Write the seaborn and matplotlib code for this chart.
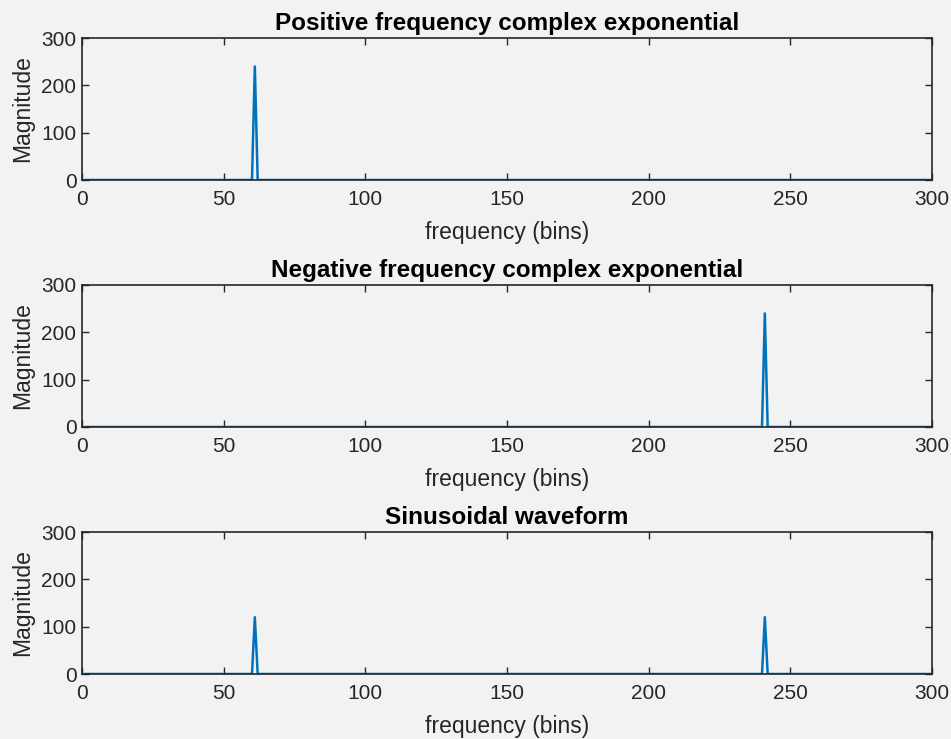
import numpy as np
import pandas as pd
import matplotlib
matplotlib.use("Agg")
import matplotlib.pyplot as plt
import seaborn as sns

# Data
n_bins = 300
titles = ["Positive frequency complex exponential",
          "Negative frequency complex exponential",
          "Sinusoidal waveform"]
peak_bins = [[61], [241], [61, 241]]
peak_heights = [[240], [240], [120, 120]]
x_ticks = [0, 50, 100, 150, 200, 250, 300]
y_ticks = [0, 100, 200, 300]

sns.set_style("ticks")
plt.rcParams['font.family'] = ['Liberation Sans', 'DejaVu Sans']

bg = "#F2F2F2"
fig = plt.figure(figsize=(9.51, 7.39), dpi=100, facecolor=bg)

left, width, height = 82/951, 850/951, 142/739
bottoms = [1 - 180/739, 1 - 427/739, 1 - 674/739]
axcol = "#262626"

for i in range(3):
    bins = np.arange(1, n_bins + 1)
    mag = np.zeros(n_bins)
    for b, h in zip(peak_bins[i], peak_heights[i]):
        mag[b - 1] = h
    df = pd.DataFrame({"bin": bins, "mag": mag})
    ax = fig.add_axes([left, bottoms[i], width, height])
    ax.set_facecolor(bg)
    sns.lineplot(data=df, x="bin", y="mag", ax=ax, color="#0072BD", linewidth=1.8)
    ax.set_xlim(0, 300)
    ax.set_ylim(0, 300)
    ax.set_xticks(x_ticks)
    ax.set_yticks(y_ticks)
    ax.tick_params(direction="in", top=True, right=True, length=5, width=1,
                   colors=axcol, labelsize=15, labelcolor=axcol)
    ax.tick_params(axis="x", pad=7)
    ax.tick_params(axis="y", pad=4)
    for s in ax.spines.values():
        s.set_visible(True)
        s.set_color(axcol)
        s.set_linewidth(1.2)
    ax.set_xlabel("frequency (bins)", fontsize=16.5, color=axcol, labelpad=9)
    ax.set_ylabel("Magnitude", fontsize=16.5, color=axcol, labelpad=5)
    ax.set_title(titles[i], fontsize=17.5, fontweight="bold", color="black", pad=6)

fig.savefig("out.png", dpi=100, facecolor=bg)
